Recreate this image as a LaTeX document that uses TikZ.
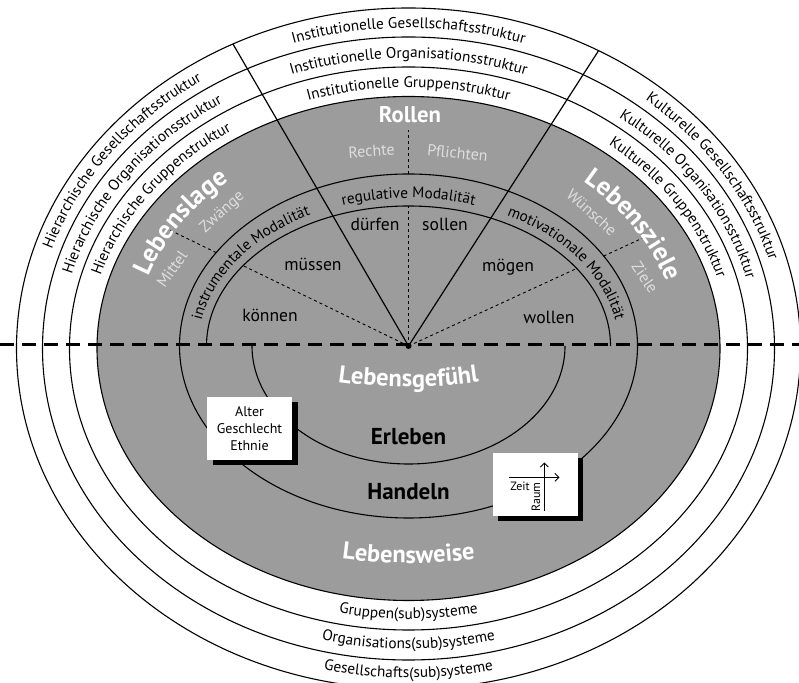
\documentclass[tikz,border=0pt]{standalone}
\usepackage{fontspec}
\setmainfont{PT Sans}
\usetikzlibrary{decorations.text,shadows,arrows.meta}
\definecolor{bgray}{gray}{0.61}
\definecolor{lighttxt}{gray}{0.87}
\newcommand\ringfont{\fontsize{15.3}{17}\selectfont}
\newcommand\bigwfont{\fontsize{24.5}{27}\selectfont\bfseries}
\newcommand\hugewfont{\fontsize{26}{29}\selectfont\bfseries}
\tikzset{
  ell/.style={line width=1.1pt},
  radial/.style={line width=1.2pt},
  thindash/.style={line width=0.9pt, dash pattern=on 3pt off 3pt},
  bigdash/.style={line width=3pt, dash pattern=on 14pt off 8pt},
  ringtext/.style={decorate, decoration={text along path, text align=center, text={|\ringfont|#1}}},
  bigtext/.style={decorate, decoration={text along path, text align=center, text={|\bigwfont\color{white}|#1}}},
  hugetext/.style={decorate, decoration={text along path, text align=center, text={|\hugewfont\color{white}|#1}}},
  verb/.style={font=\fontsize{17.6}{19}\selectfont, inner sep=0, anchor=base},
  lite/.style={font=\fontsize{16}{18}\selectfont, text=lighttxt, inner sep=0},
  boldword/.style={font=\fontsize{23}{26}\selectfont\bfseries, inner sep=0, anchor=base},
  infobox/.style={fill=white, minimum width=85pt, minimum height=63pt, inner sep=0,
     drop shadow={shadow xshift=5.5pt, shadow yshift=-5.5pt, fill=black, opacity=1}},
}
\begin{document}
\begin{tikzpicture}[x=1pt,y=1pt]
\useasboundingbox (0,0) rectangle (799,682);
\fill[white] (0,0) rectangle (799,682);
\coordinate (CO) at (408.5,333.5);
\coordinate (C) at (408.5,336);
% outer rings
\draw[ell] (CO) ellipse[x radius=392pt, y radius=340.5pt];
\draw[ell] (CO) ellipse[x radius=366pt, y radius=311.5pt];
\draw[ell] (CO) ellipse[x radius=339pt, y radius=281.5pt];
\draw[ell, fill=bgray] (CO) ellipse[x radius=311.5pt, y radius=252pt];
% radial lines
\path (CO) ++(116.6:392 and 340.5) coordinate (RL);
\path (CO) ++(61:392 and 340.5) coordinate (RR);
\draw[radial] (C) -- (RL);
\draw[radial] (C) -- (RR);
% modality ellipses
\draw[ell] (C) ellipse[x radius=229pt, y radius=172pt];
\draw[ell] (C) ++(202,0) arc[start angle=0, end angle=180, x radius=202pt, y radius=140pt];
\draw[ell] (C) ++(-156.5,0) arc[start angle=180, end angle=360, x radius=156.5pt, y radius=118pt];
% thin dashed rays
\draw[thindash] (C) -- +(90:140);
\draw[thindash] (C) ++(90:172) -- +(90:44);
\draw[thindash] (C) -- +(154.1:183.9);
\draw[thindash] (C) ++(154.1:213.8) -- +(154.1:54.5);
\draw[thindash] (C) -- +(24.75:185.2);
\draw[thindash] (C) ++(24.75:214.9) -- +(24.75:45.5);
% main dashed line
\coordinate (DL) at (0,337);
\coordinate (DR) at (799,337);
\draw[bigdash] (DL) -- (DR);
\fill (C) circle[radius=3pt];
% ring texts top
\path[ringtext={Institutionelle Gesellschaftsstruktur}] (CO) ++(118:375 and 320.5) arc[start angle=118, end angle=62, x radius=375pt, y radius=320.5pt];
\path[ringtext={Institutionelle Organisationsstruktur}] (CO) ++(118:348 and 290.5) arc[start angle=118, end angle=62, x radius=348pt, y radius=290.5pt];
\path[ringtext={Institutionelle Gruppenstruktur}] (CO) ++(118:320.5 and 261) arc[start angle=118, end angle=62, x radius=320.5pt, y radius=261pt];
% left
\path[ringtext={Hierarchische Gesellschaftsstruktur}] (CO) ++(168:375 and 320.5) arc[start angle=168, end angle=118, x radius=375pt, y radius=320.5pt];
\path[ringtext={Hierarchische Organisationsstruktur}] (CO) ++(169:348 and 290.5) arc[start angle=169, end angle=119, x radius=348pt, y radius=290.5pt];
\path[ringtext={Hierarchische Gruppenstruktur}] (CO) ++(169:320.5 and 261) arc[start angle=169, end angle=119, x radius=320.5pt, y radius=261pt];
% right
\path[ringtext={Kulturelle Gesellschaftsstruktur}] (CO) ++(58:375 and 320.5) arc[start angle=58, end angle=8, x radius=375pt, y radius=320.5pt];
\path[ringtext={Kulturelle Organisationsstruktur}] (CO) ++(58:348 and 290.5) arc[start angle=58, end angle=8, x radius=348pt, y radius=290.5pt];
\path[ringtext={Kulturelle Gruppenstruktur}] (CO) ++(58:320.5 and 261) arc[start angle=58, end angle=8, x radius=320.5pt, y radius=261pt];
% bottom
\path[ringtext={Gruppen(sub)systeme}] (CO) ++(245:328 and 270.5) arc[start angle=245, end angle=295, x radius=328pt, y radius=270.5pt];
\path[ringtext={Organisations(sub)systeme}] (CO) ++(245:355 and 300.5) arc[start angle=245, end angle=295, x radius=355pt, y radius=300.5pt];
\path[ringtext={Gesellschafts(sub)systeme}] (CO) ++(245:381 and 329.5) arc[start angle=245, end angle=295, x radius=381pt, y radius=329.5pt];
% modality ring texts
\path[ringtext={regulative Modalität}] (C) ++(122:210 and 148) arc[start angle=122, end angle=58, x radius=210pt, y radius=148pt];
\path[ringtext={instrumentale Modalität}] (C) ++(178:210 and 148) arc[start angle=178, end angle=112, x radius=210pt, y radius=148pt];
\path[ringtext={motivationale Modalität}] (C) ++(68:210 and 148) arc[start angle=68, end angle=2, x radius=210pt, y radius=148pt];
% big white curved texts
\path[hugetext={Lebenslage}] (CO) ++(170:275 and 221) arc[start angle=170, end angle=123, x radius=275pt, y radius=221pt];
\path[hugetext={Lebensziele}] (CO) ++(57:271 and 218) arc[start angle=57, end angle=9.5, x radius=271pt, y radius=218pt];
\path[bigtext={Lebensgefühl}] (408.5,795) ++(254:500) arc[start angle=254, end angle=286, radius=500pt];
\path[bigtext={Lebensweise}] (408.5,619) ++(254:500) arc[start angle=254, end angle=286, radius=500pt];
% Rollen
\node[font=\fontsize{22.7}{26}\selectfont\bfseries, text=white, inner sep=0] (rollen) at (410,567) {Rollen};
\node[lite, rotate=4] (rechte) at (371.5,531) {Rechte};
\node[lite, rotate=-6] (pflichten) at (457.5,529) {Pflichten};
\node[lite, rotate=42] (zwaenge) at (222.5,469.5) {Zwänge};
\node[lite, rotate=55] (mittel) at (172,413) {Mittel};
\node[lite, rotate=-42] (wuensche) at (591.7,469.5) {Wünsche};
\node[lite, rotate=-56] (ziele) at (645,404.5) {Ziele};
% modal verbs
\node[verb] (duerfen) at (375,451) {dürfen};
\node[verb] (sollen) at (445,451) {sollen};
\node[verb] (muessen) at (313,411.5) {müssen};
\node[verb] (moegen) at (508,410.5) {mögen};
\node[verb] (koennen) at (270,360.5) {können};
\node[verb] (wollen) at (549,358) {wollen};
% Erleben / Handeln
\node[boldword] (erleben) at (408.5,237) {Erleben};
\node[boldword] (handeln) at (408.5,182) {Handeln};
% boxes
\node[infobox, align=center, font=\fontsize{14}{17}\selectfont] (age) at (249.5,253.5) {Alter\\Geschlecht\\Ethnie};
\node[infobox] (zr) at (535,197.5) {};
\coordinate (zv0) at (544.3,171.3);
\coordinate (zv1) at (544.3,219.5);
\coordinate (zh0) at (509.3,204.7);
\coordinate (zh1) at (559.5,204.7);
\draw[line width=0.9pt, -{Straight Barb[length=4pt,width=8pt]}] (zv0) -- (zv1);
\draw[line width=0.9pt, -{Straight Barb[length=4pt,width=8pt]}] (zh0) -- (zh1);
\node[font=\fontsize{12}{14}\selectfont, inner sep=0] (zeit) at (520,196) {Zeit};
\node[font=\fontsize{12}{14}\selectfont, inner sep=0, rotate=90] (raum) at (536,185) {Raum};
\end{tikzpicture}
\end{document}
